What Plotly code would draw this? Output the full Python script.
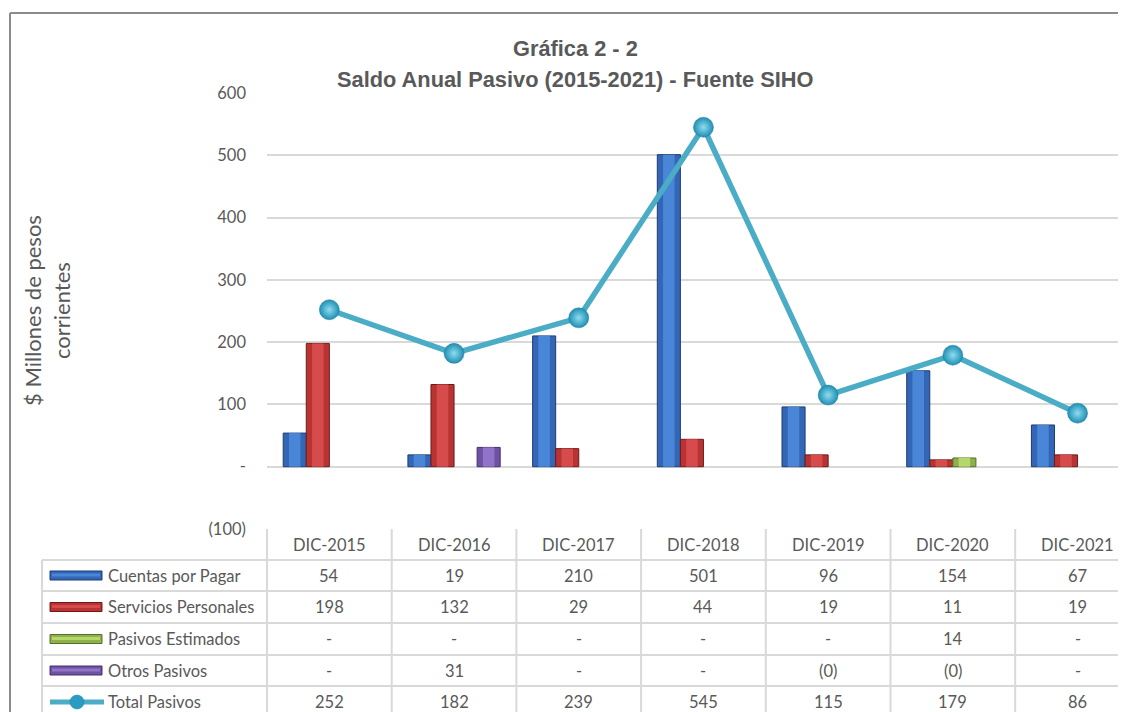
import plotly.graph_objects as go

# ---------------- data ----------------
categories = ["DIC-2015", "DIC-2016", "DIC-2017", "DIC-2018", "DIC-2019", "DIC-2020", "DIC-2021"]
cuentas_por_pagar = [54, 19, 210, 501, 96, 154, 67]
servicios_personales = [198, 132, 29, 44, 19, 11, 19]
pasivos_estimados = [0, 0, 0, 0, 0, 14, 0]
otros_pasivos = [0, 31, 0, 0, -0.2, -0.2, 0]
total_pasivos = [252, 182, 239, 545, 115, 179, 86]

series_names = ["Cuentas por Pagar", "Servicios Personales", "Pasivos Estimados", "Otros Pasivos"]
y_tick_values = [-100, 0, 100, 200, 300, 400, 500, 600]
y_tick_labels = ["(100)", "-", "100", "200", "300", "400", "500", "600"]

title_line1 = "Gráfica 2 - 2"
title_line2 = "Saldo Anual Pasivo (2015-2021) - Fuente SIHO"
y_title = "$ Millones de pesos<br>corrientes"

# ---------------- styles / layout ----------------
OFF = 8                      # page body margin of the browser
W, H = 1126 - OFF, 712 - OFF
PLOT_L, PLOT_T, PLOT_B = 267 - OFF, 93 - OFF, 529 - OFF
PLOT_W = W - PLOT_L
PLOT_H = PLOT_B - PLOT_T
CAT_PX = 124.7
TXT = "#595959"
GRID = "#d9d9d9"
FONT = "Lato, 'Open Sans', sans-serif"
TITLE_FONT = "'Liberation Sans', Arial, sans-serif"

bar_fill = ["#3466b6", "#b93333", "#8fb04a", "#6f52a3"]
bar_light = ["#4a86d8", "#d64c4c", "#b5d86c", "#9174c9"]
bar_edge = ["#1d3d72", "#6e1a1a", "#55702a", "#45306b"]
LINE_COLOR = "#4bacc6"

GROUP_W = 0.74
BAR_W = GROUP_W / 4


def px_y(p):
    """reference-picture pixel -> paper y"""
    return (PLOT_B - (p - OFF)) / PLOT_H


def px_x(p):
    """reference-picture pixel -> paper x"""
    return ((p - OFF) - PLOT_L) / PLOT_W


def plot_vals(vals):
    return [v if abs(v) >= 0.5 else None for v in vals]


def fmt(v):
    if v == 0:
        return "-"
    if v < 0:
        return "(%d)" % round(abs(v))
    return "%d" % round(v)


fig = go.Figure()

bar_series = [cuentas_por_pagar, servicios_personales, pasivos_estimados, otros_pasivos]
for k, (name, vals) in enumerate(zip(series_names, bar_series)):
    off = -GROUP_W / 2 + k * BAR_W
    fig.add_trace(go.Bar(
        x=categories, y=plot_vals(vals), name=name,
        width=BAR_W, offset=off,
        marker=dict(color=bar_fill[k], line=dict(color=bar_edge[k], width=1)),
        hoverinfo="skip",
    ))
    fig.add_trace(go.Bar(
        x=categories, y=plot_vals(vals), name=name + " (brillo)",
        width=BAR_W * 0.5, offset=off + BAR_W * 0.25,
        marker=dict(color=bar_light[k], line=dict(width=0)),
        hoverinfo="skip",
    ))

fig.add_trace(go.Scatter(
    x=categories, y=total_pasivos, name="Total Pasivos",
    mode="lines+markers",
    line=dict(color=LINE_COLOR, width=5.5),
    marker=dict(size=20, color="#1f8fb3",
                gradient=dict(type="radial", color="#8fdcf0"),
                line=dict(color="#1b7f9e", width=0.5)),
    hoverinfo="skip",
))

shapes = []
annotations = []


def note(text, x, y, xref="paper", size=16.5, family=FONT, xanchor="center", **kw):
    annotations.append(dict(text=text, xref=xref, yref="paper", x=x, y=y,
                            xanchor=xanchor, yanchor="middle", showarrow=False,
                            font=dict(family=family, size=size, color=TXT), **kw))


# titles
note("<b>%s</b>" % title_line1, px_x(575), px_y(49), size=21.8, family=TITLE_FONT)
note("<b>%s</b>" % title_line2, px_x(575), px_y(79), size=21.8, family=TITLE_FONT)
# y title
note(y_title, px_x(47), px_y(310), size=22, textangle=-90)

# table geometry (reference pixel rows)
row_lines = [560, 591, 623, 655, 686]
header_center = 545
row_centers = [575.5, 607, 639, 670.5, 702]
TABLE_L = 42
BOTTOM = 730

for c in categories:
    note(c, c, px_y(header_center), xref="x")

for yl in row_lines:
    shapes.append(dict(type="line", xref="paper", yref="paper",
                       x0=px_x(TABLE_L), x1=px_x(1150), y0=px_y(yl), y1=px_y(yl),
                       line=dict(color=GRID, width=2)))
shapes.append(dict(type="line", xref="paper", yref="paper",
                   x0=px_x(TABLE_L), x1=px_x(TABLE_L), y0=px_y(560), y1=px_y(BOTTOM),
                   line=dict(color=GRID, width=2)))
shapes.append(dict(type="line", xref="paper", yref="paper",
                   x0=0, x1=0, y0=0, y1=px_y(BOTTOM),
                   line=dict(color=GRID, width=2)))
for i in range(len(categories)):
    shapes.append(dict(type="line", xref="x", yref="paper",
                       x0=i + 0.5, x1=i + 0.5, y0=0, y1=px_y(BOTTOM),
                       line=dict(color=GRID, width=2)))

all_rows = bar_series + [total_pasivos]
all_names = series_names + ["Total Pasivos"]
for r, (name, vals) in enumerate(zip(all_names, all_rows)):
    yc = row_centers[r]
    note(name, px_x(106), px_y(yc), xanchor="left")
    for c, v in zip(categories, vals):
        note(fmt(v), c, px_y(yc), xref="x")
    if r < 4:
        shapes.append(dict(type="rect", xref="paper", yref="paper",
                           x0=px_x(50), x1=px_x(102), y0=px_y(yc - 4.5), y1=px_y(yc + 4.5),
                           fillcolor=bar_fill[r], line=dict(color=bar_edge[r], width=1)))
        shapes.append(dict(type="rect", xref="paper", yref="paper",
                           x0=px_x(52), x1=px_x(100), y0=px_y(yc - 2), y1=px_y(yc + 1),
                           fillcolor=bar_light[r], line=dict(width=0)))
    else:
        shapes.append(dict(type="line", xref="paper", yref="paper",
                           x0=px_x(50), x1=px_x(104), y0=px_y(yc), y1=px_y(yc),
                           line=dict(color=LINE_COLOR, width=5)))
        shapes.append(dict(type="circle", xref="paper", yref="paper",
                           x0=px_x(70), x1=px_x(84), y0=px_y(yc - 7), y1=px_y(yc + 7),
                           fillcolor="#2a9cc2", line=dict(color="#1b7f9e", width=0.5)))

# outer chart border
shapes.append(dict(type="line", xref="paper", yref="paper",
                   x0=px_x(10), x1=px_x(10), y0=px_y(13), y1=px_y(BOTTOM),
                   line=dict(color="#8c8c8c", width=2)))
shapes.append(dict(type="line", xref="paper", yref="paper",
                   x0=px_x(10), x1=px_x(1150), y0=px_y(13), y1=px_y(13),
                   line=dict(color="#8c8c8c", width=2)))

fig.update_layout(
    width=W, height=H,
    margin=dict(l=PLOT_L, r=0, t=PLOT_T, b=H - PLOT_B, autoexpand=False),
    paper_bgcolor="white", plot_bgcolor="white",
    barmode="overlay",
    showlegend=False,
    shapes=shapes, annotations=annotations,
    font=dict(family=FONT, color=TXT),
)
fig.update_xaxes(type="category", categoryorder="array", categoryarray=categories,
                 range=[-0.5, -0.5 + PLOT_W / CAT_PX], showgrid=False, showticklabels=False,
                 zeroline=False, showline=False, ticks="", automargin=False)
fig.update_yaxes(range=[-100, 600], tickvals=y_tick_values, ticktext=y_tick_labels,
                 showgrid=True, gridcolor=GRID, gridwidth=2, zeroline=False, showline=False,
                 ticks="", ticklabelstandoff=20, automargin=False,
                 tickfont=dict(family=FONT, size=16.5, color=TXT))

fig.write_html("out.html")
